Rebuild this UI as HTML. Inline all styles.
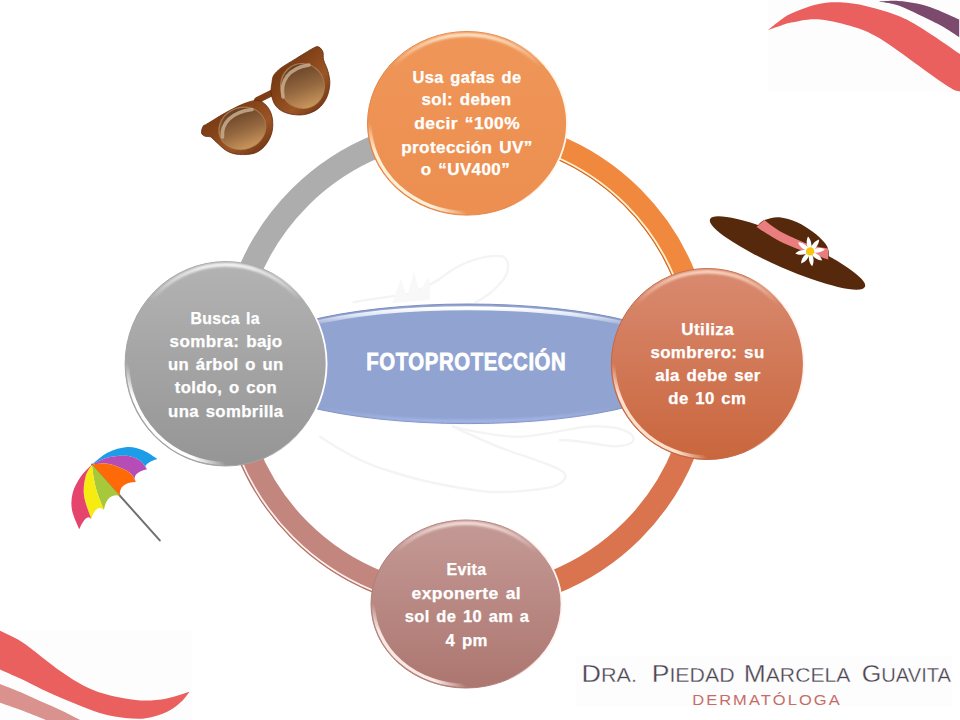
<!DOCTYPE html>
<html><head><meta charset="utf-8">
<style>
html,body{margin:0;padding:0;background:#fff;}
body{width:960px;height:720px;overflow:hidden;position:relative;}
svg{position:absolute;left:0;top:0;}
text{font-family:"Liberation Sans",sans-serif;}
</style></head><body>
<svg width="960" height="720" viewBox="0 0 960 720">
<defs>
  <linearGradient id="gTop" x1="0" y1="0" x2="0" y2="1">
    <stop offset="0" stop-color="#ef9658"/><stop offset="1" stop-color="#ec8f50"/>
  </linearGradient>
  <linearGradient id="gRight" x1="0" y1="0" x2="0" y2="1">
    <stop offset="0" stop-color="#d98a70"/><stop offset="1" stop-color="#c9663d"/>
  </linearGradient>
  <linearGradient id="gBot" x1="0" y1="0" x2="0" y2="1">
    <stop offset="0" stop-color="#c49a96"/><stop offset="1" stop-color="#ad7670"/>
  </linearGradient>
  <linearGradient id="gGrey" x1="0" y1="0" x2="0" y2="1">
    <stop offset="0" stop-color="#b3b3b3"/><stop offset="1" stop-color="#959595"/>
  </linearGradient>
  <linearGradient id="gBlue" x1="0" y1="0" x2="0" y2="1">
    <stop offset="0" stop-color="#93a6d6"/><stop offset="1" stop-color="#8c9fd0"/>
  </linearGradient>
  <linearGradient id="gFrame" x1="0" y1="0" x2="1" y2="1">
    <stop offset="0" stop-color="#6c300e"/><stop offset="0.4" stop-color="#854419"/><stop offset="0.65" stop-color="#9a5526"/><stop offset="1" stop-color="#652c0c"/></linearGradient>
  <linearGradient id="gFrame2" x1="0" y1="0" x2="1" y2="1">
    <stop offset="0" stop-color="#6a2f0d"/><stop offset="0.4" stop-color="#834218"/><stop offset="0.65" stop-color="#9b5626"/><stop offset="1" stop-color="#672d0c"/></linearGradient>
  <linearGradient id="gLens" x1="0" y1="0" x2="0" y2="1">
    <stop offset="0" stop-color="#654127"/><stop offset="0.55" stop-color="#95683f"/><stop offset="1" stop-color="#c9955c"/>
  </linearGradient>
  <filter id="blur1" x="-5%" y="-5%" width="110%" height="110%"><feGaussianBlur stdDeviation="0.9"/></filter>
  <filter id="blur05" x="-5%" y="-5%" width="110%" height="110%"><feGaussianBlur stdDeviation="0.5"/></filter>
<linearGradient id="hBlueTop" x1="0" y1="0" x2="0" y2="1"><stop offset="0" stop-color="#ffffff" stop-opacity="1"/><stop offset="0.06" stop-color="#f4f8ff" stop-opacity="0.8"/><stop offset="0.16" stop-color="#ffffff" stop-opacity="0"/></linearGradient>
<linearGradient id="hBlueBot" x1="0" y1="1" x2="0" y2="0"><stop offset="0" stop-color="#a8b8ec" stop-opacity="0.9"/><stop offset="0.12" stop-color="#a8b8ec" stop-opacity="0"/></linearGradient>
<linearGradient id="ht_t" x1="0" y1="0" x2="0" y2="1"><stop offset="0" stop-color="#fff0d8" stop-opacity="0.9"/><stop offset="0.08" stop-color="#fff0d8" stop-opacity="0.54"/><stop offset="0.18" stop-color="#fff0d8" stop-opacity="0"/></linearGradient>
<linearGradient id="hb_t" x1="0" y1="1" x2="0.5" y2="0.5"><stop offset="0.2" stop-color="#fff0d8" stop-opacity="1.0"/><stop offset="0.36" stop-color="#fff0d8" stop-opacity="1.0"/><stop offset="0.5" stop-color="#fff0d8" stop-opacity="0"/></linearGradient>
<linearGradient id="hr_t" x1="0" y1="0" x2="1" y2="0"><stop offset="0.7" stop-color="#fff6e8" stop-opacity="0"/><stop offset="0.9" stop-color="#fff6e8" stop-opacity="1.0"/></linearGradient>
<linearGradient id="ht_r" x1="0" y1="0" x2="0" y2="1"><stop offset="0" stop-color="#ffe0cc" stop-opacity="0.9"/><stop offset="0.08" stop-color="#ffe0cc" stop-opacity="0.54"/><stop offset="0.18" stop-color="#ffe0cc" stop-opacity="0"/></linearGradient>
<linearGradient id="hb_r" x1="0" y1="1" x2="0.5" y2="0.5"><stop offset="0.2" stop-color="#ffe0cc" stop-opacity="1.0"/><stop offset="0.36" stop-color="#ffe0cc" stop-opacity="1.0"/><stop offset="0.5" stop-color="#ffe0cc" stop-opacity="0"/></linearGradient>
<linearGradient id="hr_r" x1="0" y1="0" x2="1" y2="0"><stop offset="0.7" stop-color="#fff3ec" stop-opacity="0"/><stop offset="0.9" stop-color="#fff3ec" stop-opacity="1.0"/></linearGradient>
<linearGradient id="ht_b" x1="0" y1="0" x2="0" y2="1"><stop offset="0" stop-color="#fbe8e4" stop-opacity="0.9"/><stop offset="0.08" stop-color="#fbe8e4" stop-opacity="0.54"/><stop offset="0.18" stop-color="#fbe8e4" stop-opacity="0"/></linearGradient>
<linearGradient id="hb_b" x1="0" y1="1" x2="0.5" y2="0.5"><stop offset="0.2" stop-color="#fbe8e4" stop-opacity="1.0"/><stop offset="0.36" stop-color="#fbe8e4" stop-opacity="1.0"/><stop offset="0.5" stop-color="#fbe8e4" stop-opacity="0"/></linearGradient>
<linearGradient id="hr_b" x1="0" y1="0" x2="1" y2="0"><stop offset="0.7" stop-color="#fff4f2" stop-opacity="0"/><stop offset="0.9" stop-color="#fff4f2" stop-opacity="1.0"/></linearGradient>
<linearGradient id="ht_g" x1="0" y1="0" x2="0" y2="1"><stop offset="0" stop-color="#ffffff" stop-opacity="0.9"/><stop offset="0.08" stop-color="#ffffff" stop-opacity="0.54"/><stop offset="0.18" stop-color="#ffffff" stop-opacity="0"/></linearGradient>
<linearGradient id="hb_g" x1="0" y1="1" x2="0.5" y2="0.5"><stop offset="0.2" stop-color="#ffffff" stop-opacity="1.0"/><stop offset="0.36" stop-color="#ffffff" stop-opacity="1.0"/><stop offset="0.5" stop-color="#ffffff" stop-opacity="0"/></linearGradient>
<linearGradient id="hr_g" x1="0" y1="0" x2="1" y2="0"><stop offset="0.7" stop-color="#ffffff" stop-opacity="0"/><stop offset="0.9" stop-color="#ffffff" stop-opacity="1.0"/></linearGradient>

</defs>

<rect x="768" y="0" width="192" height="92" fill="#fdfdfd"/>
<rect x="0" y="631" width="192" height="89" fill="#fdfdfd"/>
<rect x="576" y="656" width="376" height="51" fill="#fdfdfd"/>
<path d="M768.1,30.0 C770.1,28.4 776.1,23.3 780.0,20.5 C783.9,17.7 785.2,16.1 791.2,13.4 C797.3,10.7 808.4,6.3 816.5,4.4 C824.6,2.5 831.6,2.0 840.0,2.3 C848.4,2.6 856.7,3.9 866.7,6.2 C876.7,8.6 889.8,12.3 900.0,16.6 C910.2,20.9 917.6,25.8 927.8,32.2 C938.0,38.6 955.5,51.0 961.0,54.8 L961,92 L961.0,91.5 C960.1,91.3 958.0,91.6 955.6,90.6 C953.2,89.6 951.9,89.0 946.7,85.6 C941.5,82.2 935.5,77.8 924.4,70.0 C913.3,62.2 892.4,46.0 880.0,38.6 C867.6,31.2 860.6,29.0 850.0,25.8 C839.4,22.6 826.3,19.7 816.5,19.2 C806.7,18.7 797.3,21.5 791.2,22.6 C785.2,23.7 783.9,24.8 780.0,26.0 C776.1,27.2 770.1,29.3 768.1,30.0 Z" fill="#e9605f"/>
<path d="M878.9,1.5 C882.1,1.4 891.8,0.6 898.1,0.9 C904.4,1.2 910.6,2.2 916.9,3.6 C923.1,5.0 928.5,6.6 935.6,9.2 C942.7,11.8 955.3,17.7 959.2,19.4 L959.2,37.2 C956.3,35.3 946.9,29.0 941.7,26.0 C936.5,23.0 933.2,21.7 927.8,19.0 C922.3,16.3 914.5,12.4 909.0,10.0 C903.5,7.6 900.0,5.9 895.0,4.5 C890.0,3.1 881.6,2.0 878.9,1.5 Z" fill="#7b4a6d"/>
<path d="M0,684 C3.5,685.4 13.9,689.3 20.8,692.3 C27.8,695.2 34.8,698.6 41.7,701.7 C48.7,704.8 55.8,707.8 62.5,711.0 C69.2,714.2 78.8,719.3 82.0,721.0 L48,721 C47.0,720.5 46.2,720.1 41.7,718.3 C37.2,716.5 27.8,712.6 20.8,710.0 C13.9,707.4 3.5,703.9 0.0,702.7 Z" fill="#d9928d"/>
<path d="M0.0,630.8 C3.5,632.5 13.9,636.9 20.8,641.3 C27.8,645.6 34.8,651.7 41.7,656.9 C48.7,662.1 55.6,667.8 62.5,672.5 C69.4,677.2 76.3,681.9 83.3,685.4 C90.2,688.9 97.2,691.6 104.2,693.8 C111.2,695.9 118.1,697.4 125.0,698.5 C131.9,699.6 138.9,700.6 145.8,700.6 C152.8,700.6 159.4,700.0 166.7,698.5 C174.0,697.0 185.8,692.8 189.6,691.7 L189.6,691.7 C188.2,693.4 185.1,698.3 181.2,701.7 C177.4,705.1 172.6,709.3 166.7,712.1 C160.8,714.9 152.8,717.3 145.8,718.3 C138.9,719.3 131.9,718.6 125.0,717.9 C118.1,717.2 111.2,716.0 104.2,714.2 C97.2,712.4 90.2,709.5 83.3,706.9 C76.3,704.3 69.4,701.5 62.5,698.5 C55.6,695.5 48.7,692.5 41.7,689.2 C34.8,685.9 27.8,682.0 20.8,678.8 C13.9,675.5 3.5,671.0 0.0,669.4 Z" fill="#e9605f"/>

<g fill="none" stroke="#f4f4f4" stroke-width="2.4" stroke-linecap="round" filter="url(#blur05)">
  <path d="M320,436.7 C340,450 365,464 386.7,470 C410,478 440,486 486.7,491.7 C510,493 540,490 553,486.7 C565,483 570,475 560,470 C550,464 520,455 506.7,450 C490,444 465,432 453,426.7"/>
  <path d="M453,426.7 C475,432 500,437 520,436.7 C545,436 570,428 586.7,426.7 C605,425 628,428 633,436.7 C636,444 625,447 610,446 C595,444 575,440 560,440"/>
  <path d="M353.5,302.3 C375,298 395,296 407.8,294.2 C420,291 435,283 448.4,272.5 C462,263 485,254 502.6,256.3 C510,260 510,272 502.6,280.6 C495,290 485,298 475.5,302.3"/>
  <path d="M392,303 C396,292 399,284 401,278 C403,286 405,292 407,296 C410,288 412,279 414,271 C416,280 418,287 420,292 C423,286 426,281 429,277 C430,285 430,293 430,300 Z" fill="#f8f8f8" stroke="none"/>
</g>

<g>
  <path d="M257.4,100.2 L271.5,93.1" stroke="#7e3d14" stroke-width="6.5" stroke-linecap="round"/>
  <path d="M201.7,130.2 C202.0,128.8 202.6,126.8 203.5,125.7 C204.4,124.7 203.4,126.0 207.0,123.9 C210.6,121.8 219.1,116.3 225.1,113.0 C231.1,109.7 237.8,106.1 243.2,104.0 C248.6,101.9 253.7,100.1 257.6,100.4 C261.5,100.7 264.2,103.1 266.6,105.8 C269.0,108.5 271.1,112.4 272.0,116.6 C272.9,120.8 273.1,126.5 272.2,131.0 C271.3,135.5 269.3,140.1 266.6,143.7 C263.9,147.3 260.3,150.9 255.8,152.7 C251.3,154.5 244.4,154.8 239.6,154.5 C234.8,154.2 230.8,153.0 226.9,150.9 C223.0,148.8 218.8,144.2 216.1,141.9 C213.4,139.6 212.5,137.9 210.7,137.0 C208.9,136.1 206.8,136.8 205.3,136.3 C203.8,135.8 202.5,135.0 201.9,134.0 C201.3,133.0 201.4,131.6 201.7,130.2 Z" fill="url(#gFrame)" stroke="#652a0b" stroke-width="0.8"/>
  <path d="M272.0,82.3 C271.6,85.3 270.6,89.3 271.2,93.2 C271.8,97.1 273.1,102.5 275.7,105.8 C278.2,109.1 282.0,111.5 286.5,113.0 C291.0,114.5 297.6,115.4 302.7,114.8 C307.8,114.2 313.3,112.1 317.2,109.4 C321.1,106.7 324.1,102.8 326.2,98.6 C328.3,94.4 329.5,88.7 329.8,84.2 C330.1,79.7 329.0,75.5 328.0,71.5 C327.0,67.5 324.5,63.2 323.6,60.0 C322.8,56.8 323.7,54.1 322.9,52.0 C322.1,49.9 320.6,47.8 319.0,47.1 C317.4,46.4 317.5,46.0 313.6,48.0 C309.7,50.0 300.9,55.6 295.5,58.9 C290.1,62.2 284.7,65.2 281.1,67.9 C277.5,70.6 275.4,72.7 273.9,75.1 C272.4,77.5 272.4,79.3 272.0,82.3 Z" fill="url(#gFrame2)" stroke="#652a0b" stroke-width="0.8"/>
  <ellipse cx="242.3" cy="128.4" rx="24.3" ry="21.5" transform="rotate(-20 242.3 128.4)" fill="#a97a50" />
  <ellipse cx="242.5" cy="128.6" rx="23.2" ry="20.4" transform="rotate(-20 242.3 128.4)" fill="url(#gLens)" />
  <ellipse cx="302.5" cy="86" rx="22.4" ry="23.2" transform="rotate(-20 302.5 86)" fill="#a97a50"/>
  <ellipse cx="302.7" cy="86.2" rx="21.3" ry="22.1" transform="rotate(-20 302.5 86)" fill="url(#gLens)"/>
  <path d="M222.5,137 C221,124 231,112 252,109.5" stroke="#c9ab8c" stroke-width="3.6" fill="none" stroke-linecap="round" opacity="0.85"/>
  <path d="M283,97 C280,82 288,68 309,65" stroke="#c9ab8c" stroke-width="3.6" fill="none" stroke-linecap="round" opacity="0.85"/>
</g>

<g>
  <ellipse cx="787.5" cy="253" rx="84.5" ry="15.5" transform="rotate(23.6 787.5 253)" fill="#57290c"/>
  <path d="M756.5,227 C757.8,225.8 760.5,221.7 764.3,220.1 C768.1,218.5 773.9,216.8 779.4,217.2 C784.9,217.6 791.5,219.9 797.1,222.3 C802.7,224.7 808.2,228.5 812.7,231.8 C817.2,235.1 821.6,239.3 824.2,242.3 C826.8,245.3 827.7,247.1 828.4,250.0 C829.1,252.9 828.6,258.0 828.6,259.6 Z" fill="#57290c"/>
  <path d="M764.3,220.1 C766.8,221.9 773.9,227.8 779.4,231.0 C784.9,234.2 791.5,237.0 797.1,239.4 C802.7,241.8 807.6,244.1 812.7,245.6 C817.9,247.1 825.5,248.1 828.0,248.6 L828.3,259.6 C826.6,259.0 822.2,257.5 817.9,256.0 C813.6,254.5 807.5,252.7 802.3,250.8 C797.1,248.9 791.9,247.0 786.7,244.6 C781.5,242.2 776.0,239.2 771.0,236.2 C766.0,233.3 758.9,228.5 756.5,226.9 Z" fill="#ea7e7e"/>
  <g transform="translate(810.1 251.4)">
    <path d="M0,-1 C-3,-4 -3,-11 0,-15 C3,-11 3,-4 0,-1 Z" fill="#fff" transform="rotate(-8)"/><path d="M0,-1 C-3,-4 -3,-11 0,-15 C3,-11 3,-4 0,-1 Z" fill="#fff" transform="rotate(37)"/><path d="M0,-1 C-3,-4 -3,-11 0,-15 C3,-11 3,-4 0,-1 Z" fill="#fff" transform="rotate(82)"/><path d="M0,-1 C-3,-4 -3,-11 0,-15 C3,-11 3,-4 0,-1 Z" fill="#fff" transform="rotate(127)"/><path d="M0,-1 C-3,-4 -3,-11 0,-15 C3,-11 3,-4 0,-1 Z" fill="#fff" transform="rotate(172)"/><path d="M0,-1 C-3,-4 -3,-11 0,-15 C3,-11 3,-4 0,-1 Z" fill="#fff" transform="rotate(217)"/><path d="M0,-1 C-3,-4 -3,-11 0,-15 C3,-11 3,-4 0,-1 Z" fill="#fff" transform="rotate(262)"/><path d="M0,-1 C-3,-4 -3,-11 0,-15 C3,-11 3,-4 0,-1 Z" fill="#fff" transform="rotate(307)"/>
    <circle r="4.2" fill="#f5c70e"/>
  </g>
</g>
<g><line x1="92" y1="464.5" x2="159.8" y2="540.4" stroke="#707070" stroke-width="2" stroke-linecap="round"/><path d="M92.0,464.5 C94.7,462.5 102.1,455.5 107.9,452.6 C113.8,449.7 121.2,447.4 127.1,447.0 C132.9,446.6 137.9,448.2 143.0,450.2 C148.1,452.2 155.0,457.5 157.4,459.0 Q141.2,464.2 147.0,469.3 C145.8,467.9 143.2,462.9 139.9,460.6 C136.6,458.4 132.4,456.3 127.1,455.8 C121.8,455.3 113.8,455.9 107.9,457.4 C102.1,458.8 94.7,463.3 92.0,464.5 Z" fill="#1b9de8"/><path d="M92.0,464.5 C94.7,463.3 102.1,458.8 107.9,457.4 C113.8,455.9 121.8,455.3 127.1,455.8 C132.4,456.3 136.6,458.4 139.9,460.6 C143.2,462.9 145.8,467.9 147.0,469.3 Q130.7,473.3 135.9,482.1 C135.2,480.9 133.9,477.0 131.9,474.9 C129.9,472.8 127.9,471.1 123.9,469.3 C119.9,467.5 113.2,464.6 107.9,463.8 C102.6,463.0 94.7,464.4 92.0,464.5 Z" fill="#b64cb6"/><path d="M92.0,464.5 C94.7,464.4 102.6,463.0 107.9,463.8 C113.2,464.6 119.9,467.5 123.9,469.3 C127.9,471.1 129.9,472.8 131.9,474.9 C133.9,477.0 135.2,480.9 135.9,482.1 Q118.8,482.7 119.9,495.7 L92.0,464.5 Z" fill="#ff6a08"/><path d="M92.0,464.5 L119.9,495.7 Q106.8,493.1 103.9,510.0 C102.7,506.8 98.4,496.5 96.7,490.9 C95.0,485.3 94.3,480.9 93.5,476.5 C92.7,472.1 92.2,466.5 92.0,464.5 Z" fill="#a6c83a"/><path d="M92.0,464.5 C92.2,466.5 92.7,472.1 93.5,476.5 C94.3,480.9 95.0,485.3 96.7,490.9 C98.4,496.5 102.7,506.8 103.9,510.0 Q96.3,503.5 91.2,518.9 C90.0,515.0 84.9,502.8 84.0,495.7 C83.1,488.6 84.3,481.7 85.6,476.5 C86.9,471.3 90.9,466.5 92.0,464.5 Z" fill="#f7ec12"/><path d="M92.0,464.5 C90.9,466.5 86.9,471.3 85.6,476.5 C84.3,481.7 83.1,488.6 84.0,495.7 C84.9,502.8 90.0,515.0 91.2,518.9 Q86.4,513.1 79.2,529.2 C78.0,526.0 73.1,516.1 72.0,510.0 C70.9,503.9 71.3,498.1 72.8,492.5 C74.3,486.9 77.6,481.2 80.8,476.5 C84.0,471.8 90.1,466.5 92.0,464.5 Z" fill="#e5446c"/></g>

<!-- ring arcs -->
<g fill="none">
  <path d="M230.70,364.00 A235.30,235.30 0 0 1 466.00,128.70" stroke="#adadad" stroke-width="23.4"/>
  <path d="M466.00,128.70 A235.30,235.30 0 0 1 701.30,364.00" stroke="#f0893d" stroke-width="23.4"/>
  <path d="M701.30,364.00 A235.30,235.30 0 0 1 466.00,599.30" stroke="#d9744e" stroke-width="23.4"/>
  <path d="M466.00,599.30 A235.30,235.30 0 0 1 230.70,364.00" stroke="#c3867f" stroke-width="23.4"/>
  <path d="M473.83,139.84 A224.30,224.30 0 0 1 690.16,356.17" stroke="#c56a30" stroke-width="1"/>
  <path d="M473.88,138.34 A225.80,225.80 0 0 1 691.66,356.12" stroke="#fff3d2" stroke-width="1.7"/>
  <path d="M457.40,610.15 A246.30,246.30 0 0 1 219.85,372.60" stroke="#a87068" stroke-width="1"/>
  <path d="M457.46,608.65 A244.80,244.80 0 0 1 221.35,372.54" stroke="#fff0ea" stroke-width="1.7"/>
</g>

<ellipse cx="468" cy="363.8" rx="230" ry="59.8" fill="#90a3d1" stroke="#7e8dbd" stroke-width="1"/>
<ellipse cx="468" cy="364.2" rx="227" ry="56" fill="none" stroke="url(#hBlueTop)" stroke-width="4" filter="url(#blur05)"/>
<ellipse cx="468" cy="363.8" rx="228" ry="57.5" fill="none" stroke="url(#hBlueBot)" stroke-width="3" filter="url(#blur1)"/>
<g transform="translate(466 370.4) scale(0.87 1)"><text x="0" y="0" font-size="23.4" font-weight="bold" fill="#fff" stroke="#fff" stroke-width="0.75" text-anchor="middle" textLength="229.3" lengthAdjust="spacing">FOTOPROTECCIÓN</text></g>

<ellipse cx="467" cy="123.3" rx="99.5" ry="91.8" fill="url(#gTop)" stroke="#e58445" stroke-width="1"/><ellipse cx="467" cy="123.3" rx="96.3" ry="88.6" fill="none" stroke="url(#ht_t)" stroke-width="3.5" filter="url(#blur1)"/><ellipse cx="467" cy="123.3" rx="96.9" ry="89.2" fill="none" stroke="url(#hb_t)" stroke-width="3.4"/><ellipse cx="467" cy="123.3" rx="100.0" ry="92.3" fill="none" stroke="url(#hr_t)" stroke-width="1.8"/><ellipse cx="707.3" cy="364" rx="96" ry="95.5" fill="url(#gRight)" stroke="#c2684a" stroke-width="1"/><ellipse cx="707.3" cy="364" rx="92.8" ry="92.3" fill="none" stroke="url(#ht_r)" stroke-width="3.5" filter="url(#blur1)"/><ellipse cx="707.3" cy="364" rx="93.4" ry="92.9" fill="none" stroke="url(#hb_r)" stroke-width="3.4"/><ellipse cx="707.3" cy="364" rx="96.5" ry="96.0" fill="none" stroke="url(#hr_r)" stroke-width="1.8"/><ellipse cx="466" cy="604" rx="95" ry="84" fill="url(#gBot)" stroke="#b07e78" stroke-width="1"/><ellipse cx="466" cy="604" rx="91.8" ry="80.8" fill="none" stroke="url(#ht_b)" stroke-width="3.5" filter="url(#blur1)"/><ellipse cx="466" cy="604" rx="92.4" ry="81.4" fill="none" stroke="url(#hb_b)" stroke-width="3.4"/><ellipse cx="466" cy="604" rx="95.5" ry="84.5" fill="none" stroke="url(#hr_b)" stroke-width="1.8"/><ellipse cx="225.6" cy="363.8" rx="100.5" ry="102.2" fill="url(#gGrey)" stroke="#a4a4a4" stroke-width="1"/><ellipse cx="225.6" cy="363.8" rx="97.3" ry="99.0" fill="none" stroke="url(#ht_g)" stroke-width="3.5" filter="url(#blur1)"/><ellipse cx="225.6" cy="363.8" rx="97.9" ry="99.60000000000001" fill="none" stroke="url(#hb_g)" stroke-width="3.4"/><ellipse cx="225.6" cy="363.8" rx="101.0" ry="102.7" fill="none" stroke="url(#hr_g)" stroke-width="1.8"/>

<g fill="#fff" stroke="#fff" stroke-width="0.25" font-weight="bold" font-size="15.9" text-anchor="middle" word-spacing="1.6" letter-spacing="0.35">
  <text x="467" y="82.6" textLength="109" lengthAdjust="spacingAndGlyphs">Usa gafas de</text>
  <text x="466.5" y="105.2" textLength="90" lengthAdjust="spacingAndGlyphs">sol: deben</text>
  <text x="467.2" y="129" textLength="105.7" lengthAdjust="spacingAndGlyphs">decir “100%</text>
  <text x="467" y="152.5" textLength="131.5" lengthAdjust="spacingAndGlyphs">protección UV”</text>
  <text x="465.4" y="175" textLength="89.4" lengthAdjust="spacingAndGlyphs">o “UV400”</text>

  <text x="225.3" y="323.5" textLength="69.4" lengthAdjust="spacingAndGlyphs">Busca la</text>
  <text x="226.1" y="346.8" textLength="113" lengthAdjust="spacingAndGlyphs">sombra: bajo</text>
  <text x="225.8" y="370" textLength="115.5" lengthAdjust="spacingAndGlyphs">un árbol o un</text>
  <text x="225.9" y="393.3" textLength="102.3" lengthAdjust="spacingAndGlyphs">toldo, o con</text>
  <text x="225.8" y="416.5" textLength="115.5" lengthAdjust="spacingAndGlyphs">una sombrilla</text>

  <text x="707.7" y="334.5" textLength="52.7" lengthAdjust="spacingAndGlyphs">Utiliza</text>
  <text x="707.5" y="357.6" textLength="114.2" lengthAdjust="spacingAndGlyphs">sombrero: su</text>
  <text x="708" y="381" textLength="105.5" lengthAdjust="spacingAndGlyphs">ala debe ser</text>
  <text x="707.3" y="404.2" textLength="78" lengthAdjust="spacingAndGlyphs">de 10 cm</text>

  <text x="466.4" y="575.4" textLength="40" lengthAdjust="spacingAndGlyphs">Evita</text>
  <text x="466.3" y="598.8" textLength="109.4" lengthAdjust="spacingAndGlyphs">exponerte al</text>
  <text x="467.1" y="622.2" textLength="124.6" lengthAdjust="spacingAndGlyphs">sol de 10 am a</text>
  <text x="466.7" y="645.6" textLength="42.3" lengthAdjust="spacingAndGlyphs">4 pm</text>
</g>

<g fill="#4b4351" stroke="#fff" stroke-width="0.3" font-size="24.3" lengthAdjust="spacingAndGlyphs">
  <text x="581.5" y="682.1" textLength="55.5" lengthAdjust="spacingAndGlyphs">D<tspan font-size="19.5">RA.</tspan></text>
  <text x="651.7" y="682.1" textLength="83" lengthAdjust="spacingAndGlyphs">P<tspan font-size="19.5">IEDAD</tspan></text>
  <text x="743.8" y="682.1" textLength="106.6" lengthAdjust="spacingAndGlyphs">M<tspan font-size="19.5">ARCELA</tspan></text>
  <text x="861.7" y="682.1" textLength="89.3" lengthAdjust="spacingAndGlyphs">G<tspan font-size="19.5">UAVITA</tspan></text>
</g>
<text x="692.2" y="704.7" font-size="14.4" fill="#c66c68" letter-spacing="1.8" textLength="149.5" lengthAdjust="spacingAndGlyphs">DERMATÓLOGA</text>

</svg>
</body></html>
